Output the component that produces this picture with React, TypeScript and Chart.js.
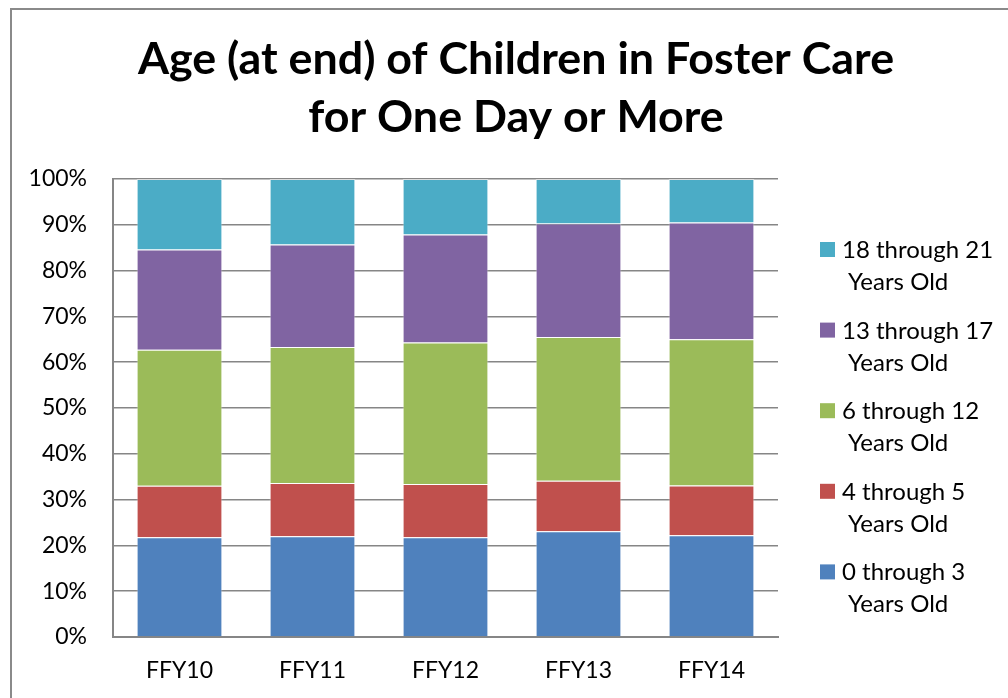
import React, { useEffect, useRef } from "react";
import { Chart, registerables } from "chart.js";

Chart.register(...registerables);

const categories = ["FFY10", "FFY11", "FFY12", "FFY13", "FFY14"];
const seriesNames = [
  ["0 through 3", "Years Old"],
  ["4 through 5", "Years Old"],
  ["6 through 12", "Years Old"],
  ["13 through 17", "Years Old"],
  ["18 through 21", "Years Old"],
];
const age0to3 = [21.8, 22.0, 21.8, 23.1, 22.2];
const age4to5 = [11.2, 11.6, 11.6, 11.0, 10.9];
const age6to12 = [29.7, 29.7, 30.9, 31.4, 31.9];
const age13to17 = [21.9, 22.4, 23.6, 24.8, 25.5];
const age18to21 = [15.4, 14.3, 12.1, 9.7, 9.5];
const titleLines = ["Age (at end) of Children in Foster Care", "for One Day or More"];
const colors = ["#4F81BD", "#C0504D", "#9BBB59", "#8064A2", "#4BACC6"];

const FONT = "Lato, 'Open Sans', sans-serif";

const decorPlugin = {
  id: "decor",
  beforeDraw(chart: any) {
    const ctx = chart.ctx;
    ctx.save();
    ctx.fillStyle = "#ffffff";
    ctx.fillRect(0, 0, chart.width, chart.height);
    ctx.strokeStyle = "#8a8a8a";
    ctx.lineWidth = 2;
    ctx.beginPath();
    ctx.moveTo(11, chart.height + 5);
    ctx.lineTo(11, 9);
    ctx.lineTo(chart.width + 5, 9);
    ctx.stroke();
    ctx.restore();
  },
  afterDraw(chart: any) {
    const ctx = chart.ctx;
    ctx.save();
    // title
    ctx.fillStyle = "#000000";
    ctx.textAlign = "center";
    ctx.textBaseline = "alphabetic";
    ctx.font = `bold 44.8px ${FONT}`;
    ctx.fillText(titleLines[0], 516, 74);
    ctx.fillText(titleLines[1], 516, 132);
    // legend (reversed order)
    ctx.textAlign = "left";
    ctx.font = `24px ${FONT}`;
    const ds = chart.data.datasets;
    const n = ds.length;
    for (let i = 0; i < n; i++) {
      const d = ds[n - 1 - i];
      const top = 242 + i * 80.6;
      ctx.fillStyle = d.backgroundColor;
      ctx.fillRect(820, top, 15, 15);
      ctx.fillStyle = "#000000";
      const lines = d.label as string[];
      ctx.fillText(lines[0], 842, top + 16);
      ctx.fillText(lines[1], 848, top + 48);
    }
    ctx.restore();
  },
};

export default function App() {
  const ref = useRef<HTMLCanvasElement>(null);
  useEffect(() => {
    if (!ref.current) return;
    const values = [age0to3, age4to5, age6to12, age13to17, age18to21];
    const chart = new Chart(ref.current, {
      type: "bar",
      data: {
        labels: categories,
        datasets: values.map((v, i) => ({
          label: seriesNames[i] as any,
          data: v,
          backgroundColor: colors[i],
          borderColor: "rgba(255,255,255,0.45)",
          borderWidth: 1,
          categoryPercentage: 1,
          barPercentage: 0.645,
        })),
      },
      options: {
        responsive: false,
        animation: false,
        devicePixelRatio: 1,
        layout: { padding: { top: 179, right: 230, left: 0, bottom: 0 } },
        plugins: {
          legend: { display: false },
          title: { display: false },
          tooltip: { enabled: false },
        },
        scales: {
          x: {
            stacked: true,
            grid: { display: false, drawTicks: false },
            border: { display: true, color: "#868686", width: 2 },
            ticks: { color: "#000000", font: { family: FONT, size: 23 }, padding: 20 },
            afterFit: (s: any) => {
              s.height = 61;
            },
          },
          y: {
            stacked: true,
            min: 0,
            max: 100,
            grid: { color: "#868686", lineWidth: 1.5, drawTicks: false },
            border: { display: true, color: "#868686", width: 2 },
            ticks: {
              stepSize: 10,
              color: "#000000",
              font: { family: FONT, size: 23 },
              padding: 26,
              callback: (v: any) => `${v}%`,
            },
            afterFit: (s: any) => {
              s.width = 113;
            },
          },
        },
      },
      plugins: [decorPlugin],
    });
    return () => chart.destroy();
  }, []);
  return (
    <div style={{ position: "absolute", left: 0, top: 0, width: 1008, height: 698 }}>
      <canvas ref={ref} width={1008} height={698} style={{ display: "block" }} />
    </div>
  );
}
